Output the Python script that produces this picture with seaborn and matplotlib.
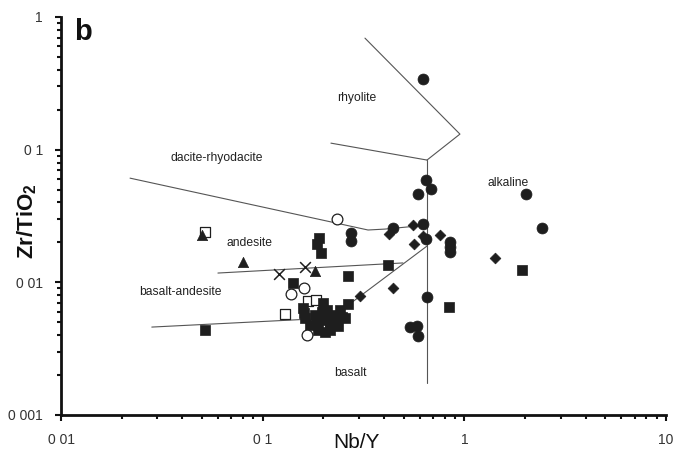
import matplotlib
matplotlib.use("Agg")
import matplotlib.pyplot as plt
import seaborn as sns
import numpy as np
from matplotlib.ticker import LogLocator, NullFormatter, FixedLocator, FixedFormatter

sns.set_style("white")
plt.rcParams['font.family'] = ['Liberation Sans', 'DejaVu Sans']
plt.rcParams['mathtext.fontset'] = 'custom'
plt.rcParams['mathtext.rm'] = 'Liberation Sans'
plt.rcParams['mathtext.bf'] = 'Liberation Sans:bold'

# ---------------- data (Nb/Y, Zr/TiO2) ----------------
circ_x = [0.623, 0.645, 0.683, 0.589, 0.443, 0.623, 0.645, 0.848, 0.848, 0.848,
          0.653, 0.537, 0.582, 0.589, 2.02, 2.43, 0.274, 0.274]
circ_y = [0.340, 0.059, 0.0505, 0.0463, 0.0257, 0.0275, 0.0212, 0.0201, 0.0185, 0.0169,
          0.00774, 0.00460, 0.00469, 0.00394, 0.0463, 0.0257, 0.0235, 0.0205]

sq_x = [0.0518, 0.190, 0.186, 0.195, 0.265, 0.141, 0.265, 0.418, 0.839, 1.93,
        0.158, 0.162, 0.199, 0.197, 0.197, 0.208, 0.211, 0.216, 0.228, 0.247,
        0.188, 0.204, 0.186, 0.223, 0.160, 0.172, 0.242, 0.256, 0.182, 0.216, 0.236]
sq_y = [0.00437, 0.0216, 0.0194, 0.0166, 0.0112, 0.00988, 0.00686, 0.0135, 0.00651, 0.0124,
        0.00640, 0.00538, 0.00698, 0.00597, 0.00520, 0.00618, 0.00548, 0.00494, 0.00567, 0.00548,
        0.00437, 0.00422, 0.00494, 0.00502, 0.00587, 0.00477, 0.00618, 0.00538, 0.00567, 0.00437, 0.00469]

osq_x = [0.0518, 0.129, 0.168, 0.184]
osq_y = [0.0239, 0.00577, 0.00723, 0.00736]

tri_x = [0.0500, 0.0798, 0.182]
tri_y = [0.0227, 0.0142, 0.0122]

cross_x = [0.120, 0.162]
cross_y = [0.0115, 0.0130]

ocirc_x = [0.234, 0.138, 0.160, 0.166]
ocirc_y = [0.0300, 0.00816, 0.00906, 0.00401]

dia_x = [0.304, 0.443, 0.423, 0.556, 0.623, 0.563, 0.757, 1.42]
dia_y = [0.00788, 0.00906, 0.0231, 0.0270, 0.0223, 0.0194, 0.0227, 0.0152]

# field boundaries
bnd_dacite_x = [0.022, 0.333, 0.404, 0.653]
bnd_dacite_y = [0.061, 0.0248, 0.0252, 0.0270]
bnd_andesite_x = [0.060, 0.496]
bnd_andesite_y = [0.01175, 0.0140]
bnd_basalt_x = [0.0282, 0.218, 0.653]
bnd_basalt_y = [0.0046, 0.00538, 0.01877]
bnd_alk_x = [0.653, 0.653]
bnd_alk_y = [0.00174, 0.0835]
bnd_rhy1_x = [0.3215, 0.951, 0.653]
bnd_rhy1_y = [0.693, 0.131, 0.0835]
bnd_rhy2_x = [0.218, 0.653]
bnd_rhy2_y = [0.112, 0.0835]

x_ticks = [0.01, 0.1, 1, 10]
x_ticklabels = ["0 01", "0 1", "1", "10"]
y_ticks = [0.001, 0.01, 0.1, 1]
y_ticklabels = ["0 001", "0 01", "0 1", "1"]

field_labels = ["rhyolite", "dacite-rhyodacite", "andesite", "basalt-andesite", "basalt", "alkaline"]
field_pos = [(0.489, 0.796), (0.258, 0.646), (0.312, 0.432), (0.197, 0.309), (0.478, 0.106), (0.739, 0.583)]

# ---------------- figure ----------------
fig = plt.figure(figsize=(6.76, 4.54), dpi=100)
ax = fig.add_axes([61/676, 1-415/454, (666-61)/676, (415-17)/454])
ax.set_xscale('log')
ax.set_yscale('log')
ax.set_xlim(0.01, 10)
ax.set_ylim(0.001, 1)

lc = '#555555'
for bx, by in [(bnd_dacite_x, bnd_dacite_y), (bnd_andesite_x, bnd_andesite_y),
               (bnd_basalt_x, bnd_basalt_y), (bnd_alk_x, bnd_alk_y),
               (bnd_rhy1_x, bnd_rhy1_y), (bnd_rhy2_x, bnd_rhy2_y)]:
    sns.lineplot(x=bx, y=by, sort=False, estimator=None, color=lc, lw=0.8, ax=ax)

mc = '#1e1e1e'
sns.scatterplot(x=osq_x, y=osq_y, marker='s', s=52, color='white', edgecolor=mc, linewidth=0.9, ax=ax, zorder=3)
sns.scatterplot(x=sq_x, y=sq_y, marker='s', s=52, color=mc, edgecolor=mc, linewidth=0.5, ax=ax, zorder=4)
sns.scatterplot(x=circ_x, y=circ_y, marker='o', s=62, color=mc, edgecolor=mc, linewidth=0.5, ax=ax, zorder=4)
sns.scatterplot(x=dia_x, y=dia_y, marker='D', s=30, color=mc, edgecolor=mc, linewidth=0.5, ax=ax, zorder=5)
sns.scatterplot(x=tri_x, y=tri_y, marker='^', s=55, color=mc, edgecolor=mc, linewidth=0.5, ax=ax, zorder=5)
sns.scatterplot(x=ocirc_x, y=ocirc_y, marker='o', s=60, color='white', edgecolor=mc, linewidth=0.9, ax=ax, zorder=5)
sns.scatterplot(x=cross_x, y=cross_y, marker='x', s=60, color=mc, linewidth=1.1, ax=ax, zorder=5)

# axes styling
for s in ['top', 'right']:
    ax.spines[s].set_visible(False)
for s in ['left', 'bottom']:
    ax.spines[s].set_linewidth(2.0)
    ax.spines[s].set_color('#111111')

ax.xaxis.set_major_locator(FixedLocator(x_ticks))
ax.xaxis.set_major_formatter(FixedFormatter(x_ticklabels))
ax.yaxis.set_major_locator(FixedLocator(y_ticks))
ax.yaxis.set_major_formatter(FixedFormatter(y_ticklabels))
ax.xaxis.set_minor_locator(LogLocator(base=10, subs=np.arange(2, 10)))
ax.yaxis.set_minor_locator(LogLocator(base=10, subs=np.arange(2, 10)))
ax.xaxis.set_minor_formatter(NullFormatter())
ax.yaxis.set_minor_formatter(NullFormatter())
ax.tick_params(which='both', direction='out', color='#111111', width=1.5,
               bottom=True, left=True, top=False, right=False)
ax.tick_params(which='major', length=4, pad=9, labelsize=10, labelcolor='#333333')
ax.tick_params(which='minor', length=3)

ax.set_xlabel('')
ax.set_ylabel('')
fig.text(356/676, 1-443/454, 'Nb/Y', ha='center', va='center', fontsize=15, color='#111111')
fig.text(27/676, 1-221/454, r'$\mathbf{Zr/TiO_2}$', ha='center', va='center', rotation=90,
         fontsize=16, color='#111111')

for lab, (px, py) in zip(field_labels, field_pos):
    ax.text(px, py, lab, transform=ax.transAxes, ha='center', va='center', fontsize=8.7, color='#222222')

ax.text(0.036, 0.962, 'b', transform=ax.transAxes, ha='center', va='center', fontsize=21,
        fontweight='bold', color='#111111')

fig.savefig('out.png', dpi=100)
